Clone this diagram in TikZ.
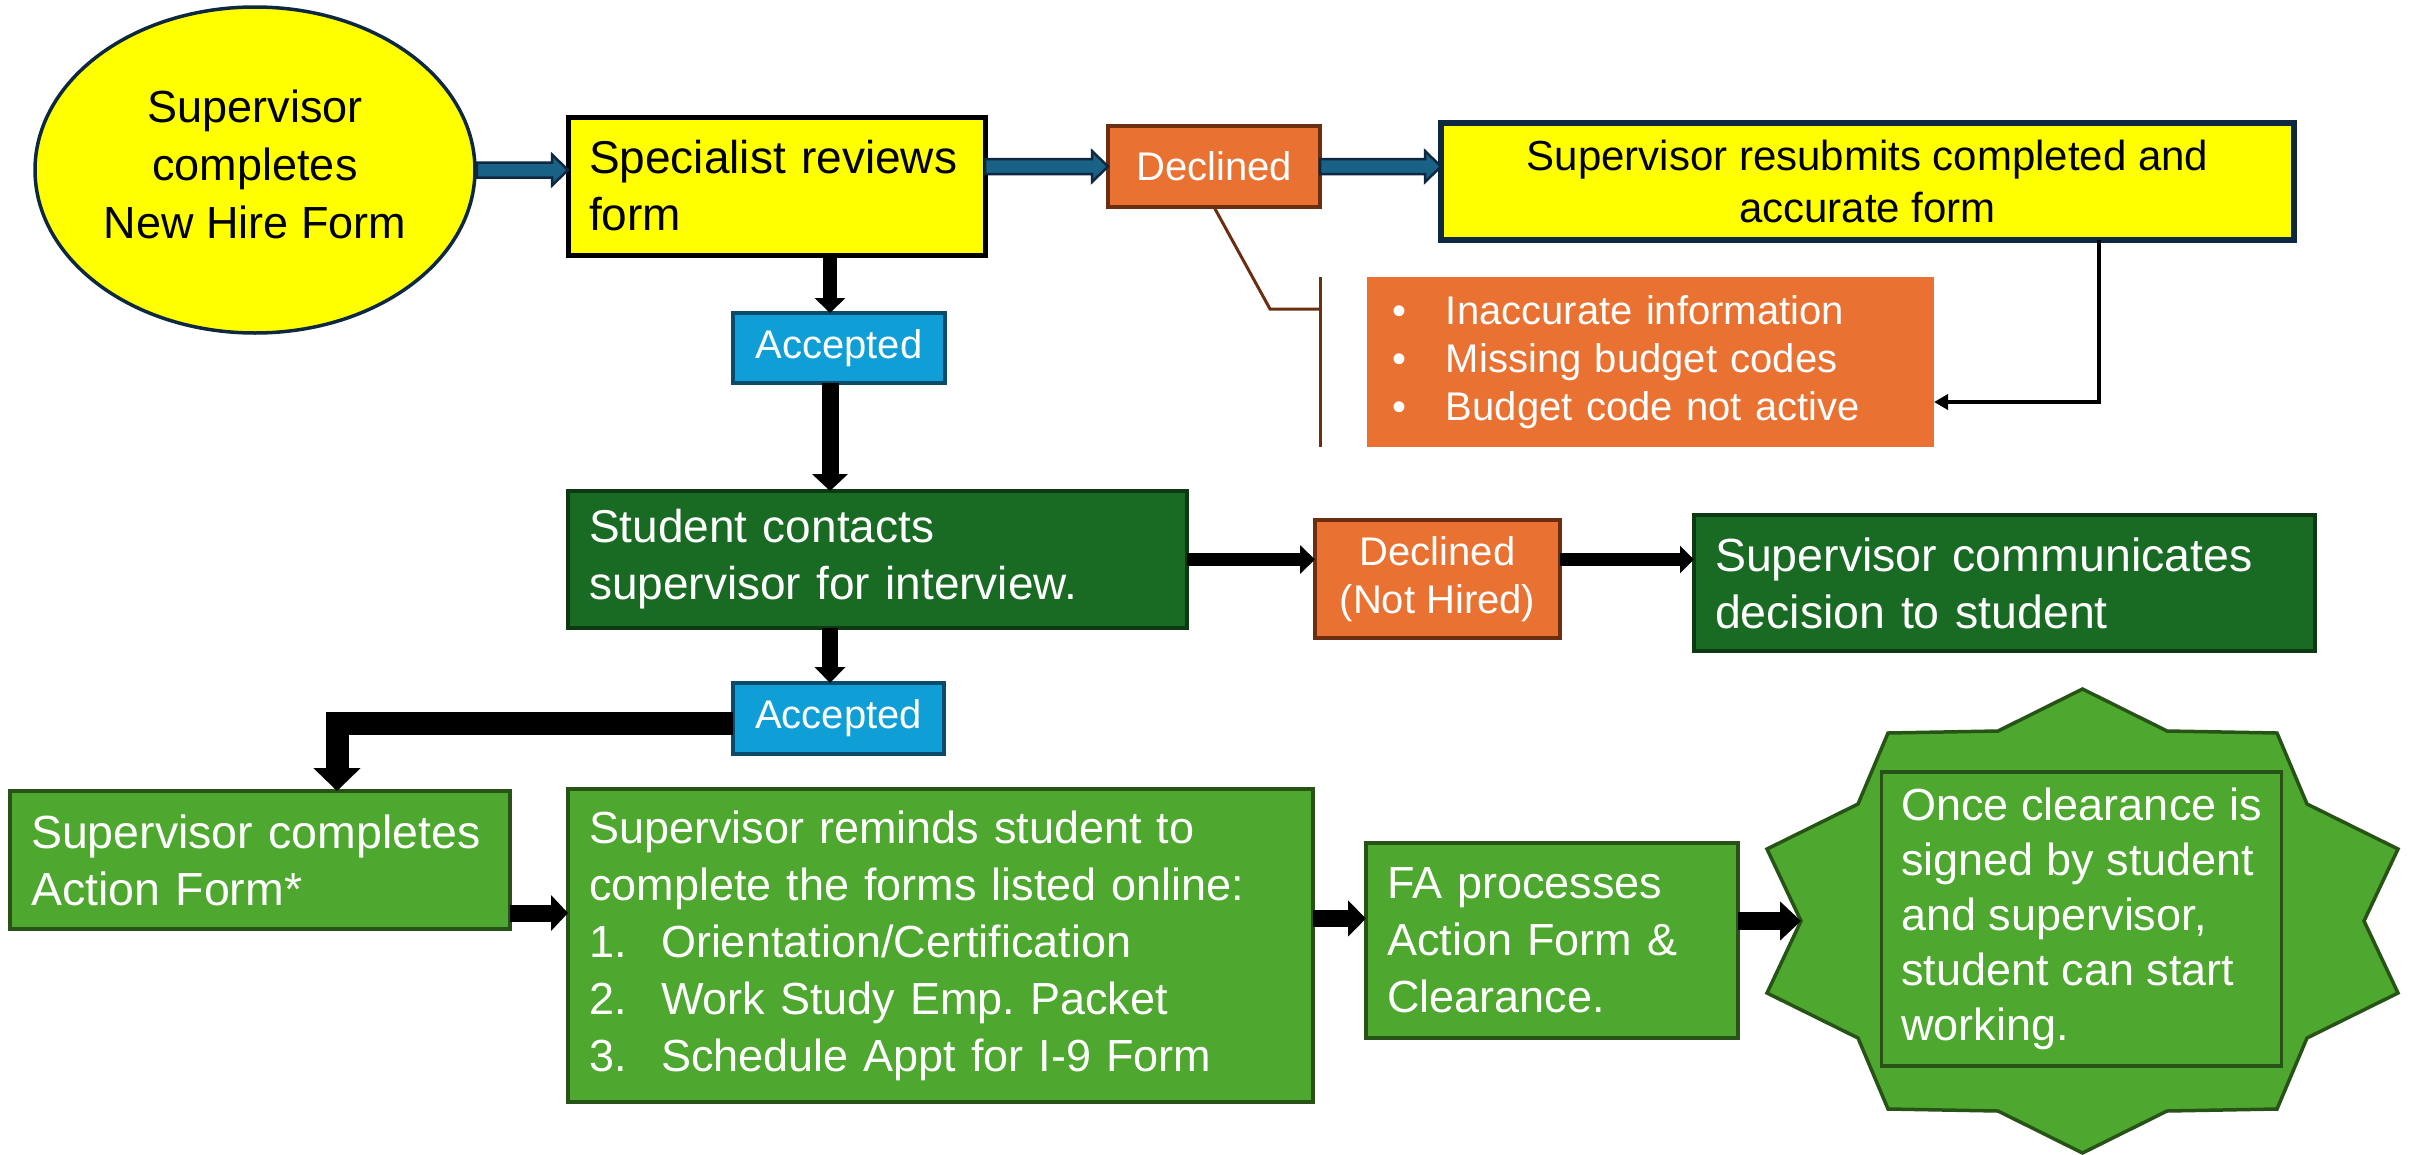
\documentclass[tikz,border=0pt]{standalone}
\usepackage{fontspec}
\setmainfont{Liberation Sans}
\usetikzlibrary{shapes.geometric,arrows.meta,calc}
\definecolor{yel}{HTML}{FFFF00}
\definecolor{navy}{HTML}{0E2841}
\definecolor{arrblue}{HTML}{196185}
\definecolor{accblue}{HTML}{0F9ED5}
\definecolor{accbd}{HTML}{0B4A6A}
\definecolor{orng}{HTML}{E97132}
\definecolor{brn}{HTML}{6B2E10}
\definecolor{dgreen}{HTML}{196B24}
\definecolor{dgbd}{HTML}{0D3A13}
\definecolor{lgreen}{HTML}{4EA72E}
\definecolor{lgbd}{HTML}{275317}
\tikzset{
  base/.style={rectangle, inner ysep=0pt, outer sep=0pt},
  fmain/.style={font=\fontsize{45}{57}\selectfont},
  fsmall/.style={font=\fontsize{40}{48}\selectfont},
  ybox/.style={base, fill=yel, draw=black, line width=5pt, inner xsep=21pt, align=left, text=black, fmain},
  accbox/.style={base, fill=accblue, draw=accbd, line width=3.5pt, inner xsep=0pt, align=center, text=white, fsmall},
  decbox/.style={base, fill=orng, draw=brn, line width=3.5pt, inner xsep=0pt, align=center, text=white, fsmall},
  dgbox/.style={base, fill=dgreen, draw=dgbd, line width=3.5pt, inner xsep=21pt, align=left, text=white,
                font=\fontsize{46}{57}\selectfont},
  lgbox/.style={base, fill=lgreen, draw=lgbd, line width=3.5pt, inner xsep=21pt, align=left, text=white, fmain},
  blockarr/.style={fill=arrblue, draw=navy, line width=2.5pt, line join=miter},
  barr/.style={draw=black, line width=14pt, -{Triangle[length=16pt,width=30pt]}},
  thinarr/.style={draw=black, line width=3.5pt, -{Triangle[length=14pt,width=15pt]}},
  bracket/.style={draw=brn, line width=3pt},
}
\newcommand\blkarrow[2]{%
  \draw[blockarr] ($(#1)+(0,-7.5)$) -- ($(#2)+(-16,-7.5)$) -- ($(#2)+(-16,-15.5)$) -- (#2)
    -- ($(#2)+(-16,15.5)$) -- ($(#2)+(-16,7.5)$) -- ($(#1)+(0,7.5)$) -- cycle;}
\begin{document}
\begin{tikzpicture}[x=1pt,y=-1pt]
\useasboundingbox (0,0) rectangle (2412,1154);

% --- nodes ---
\node[ellipse, fill=yel, draw=navy, line width=3.5pt, minimum width=440pt, minimum height=326pt,
      inner sep=0pt, align=center, font=\fontsize{45}{58}\selectfont] (ell) at (255,170)
      {Supervisor\\completes\\New Hire Form\\[-46pt]\mbox{}};
\node[ybox, minimum width=417pt, minimum height=138pt, text width=375pt,
      font=\fontsize{46}{57}\selectfont] (spec) at (776.5,186) {Specialist reviews\\form};
\node[accbox, minimum width=212pt, minimum height=70pt] (acc1) at (839,348) {Accepted};
\node[decbox, minimum width=212pt, minimum height=81pt] (dec1) at (1214,166.5) {Declined};
\node[base, fill=yel, draw=navy, line width=6pt, minimum width=853pt, minimum height=117pt,
      inner xsep=0pt, align=center, text=black, font=\fontsize{42}{52}\selectfont] (resub) at (1867.5,181.5)
      {Supervisor resubmits completed and\\accurate form};
\node[base, fill=orng, text=white, minimum width=567pt, minimum height=170pt, inner xsep=25pt,
      text width=517pt, align=left, fsmall] (reasons) at (1650.5,362)
      {\makebox[54pt][l]{\textbullet}Inaccurate information\\
       \makebox[54pt][l]{\textbullet}Missing budget codes\\
       \makebox[54pt][l]{\textbullet}Budget code not active};
\node[dgbox, minimum width=619pt, minimum height=137pt, text width=577pt] (student) at (877.5,559.5)
      {Student contacts\\supervisor for interview.};
\node[decbox, minimum width=245pt, minimum height=118pt] (dec2) at (1437.5,579) {Declined\\(Not Hired)};
\node[dgbox, minimum width=621pt, minimum height=136pt, text width=579pt,
      font=\fontsize{46.5}{57}\selectfont] (comm) at (2004.5,583)
      {Supervisor communicates\\decision to student};
\node[accbox, minimum width=211pt, minimum height=71pt] (acc2) at (838.5,718.5) {Accepted};
\node[lgbox, minimum width=500pt, minimum height=138pt, text width=458pt,
      font=\fontsize{46.5}{57}\selectfont] (action) at (260,860)
      {Supervisor completes\\Action Form*};
\node[lgbox, minimum width=745pt, minimum height=313pt, text width=703pt] (remind) at (940.5,945.5)
      {Supervisor reminds student to\\
       complete the forms listed online:\\
       \makebox[72pt][l]{1.}Orientation/Certification\\
       \makebox[72pt][l]{2.}Work Study Emp.\ Packet\\
       \makebox[72pt][l]{3.}Schedule Appt for I-9 Form};
\node[lgbox, minimum width=372pt, minimum height=195pt, text width=330pt] (fa) at (1552,940.5)
      {FA processes\\Action Form \&\\Clearance.};

% --- star ---
\draw[fill=lgreen, draw=lgbd, line width=3.5pt, line join=miter]
  (2082.5,689) -- (2167,731) -- (2277,733) -- (2307,804) -- (2398,849) -- (2364,921)
  -- (2398,993) -- (2307,1038) -- (2277,1109) -- (2167,1111) -- (2082.5,1153) -- (1998,1111)
  -- (1888,1109) -- (1858,1038) -- (1767,993) -- (1801,921) -- (1767,849) -- (1858,804)
  -- (1888,733) -- (1998,731) -- cycle;
\coordinate (starL) at (1801,921);
\node[lgbox, inner xsep=0pt, minimum width=400pt, minimum height=294pt,
      font=\fontsize{45}{55}\selectfont] (clear) at (2081.5,919)
      {Once clearance is\\signed by student\\and supervisor,\\student can start\\working.};

% --- block arrows (blue) ---
\blkarrow{ell.east}{spec.west |- ell.east}
\blkarrow{spec.east |- dec1.west}{dec1.west}
\blkarrow{dec1.east}{resub.west |- dec1.east}

% --- black arrows ---
\coordinate (xa) at (830,0);
\draw[barr, line width=14pt, -{Triangle[length=15pt,width=30pt]}] (spec.south -| xa) -- (acc1.north -| xa);
\draw[barr, line width=17pt, -{Triangle[length=17pt,width=35pt]}] (acc1.south -| xa) -- (student.north -| xa);
\draw[barr, line width=16pt, -{Triangle[length=16pt,width=30pt]}] (student.south -| xa) -- (acc2.north -| xa);
\coordinate (xb) at (337,0);
\draw[barr, line width=23pt, -{Triangle[length=23pt,width=46pt]}, line join=miter] (acc2.west |- 0,723) -| (xb |- action.north);
\draw[barr, line width=13pt, -{Triangle[length=15pt,width=28pt]}] (student.east) -- (dec2.west |- student.east);
\draw[barr, line width=13pt, -{Triangle[length=14pt,width=27pt]}] (dec2.east |- student.east) -- (comm.west |- student.east);
\coordinate (ar1) at ($(action.south east)+(0,-16)$);
\draw[barr, line width=17pt, -{Triangle[length=17pt,width=35pt]}] (ar1) -- (remind.west |- ar1);
\coordinate (ar2) at ($(fa.west)+(0,-22)$);
\draw[barr, line width=17pt, -{Triangle[length=18pt,width=35pt]}] (remind.east |- ar2) -- (ar2);
\draw[barr, line width=18pt, -{Triangle[length=21pt,width=38pt]}] (fa.east |- starL) -- (starL);

% --- thin arrow from resubmit to reasons ---
\coordinate (t1) at ($(reasons.east)+(165,40)$);
\draw[thinarr] (resub.south -| t1) -- (t1) -- (reasons.east |- t1);

% --- bracket ---
\coordinate (brk) at ($(reasons.west)+(-47,0)$);
\draw[bracket] (dec1.south) -- ++(56,102) coordinate (bk) -- (bk -| brk);
\draw[bracket] ($(brk)+(0,-85)$) -- ($(brk)+(0,85)$);
\end{tikzpicture}
\end{document}
